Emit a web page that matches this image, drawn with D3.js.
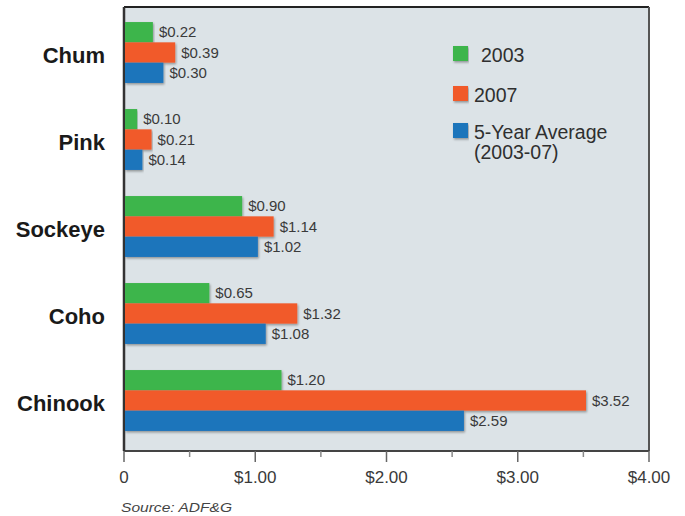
<!DOCTYPE html>
<html>
<head>
<meta charset="utf-8">
<script src="https://cdn.jsdelivr.net/npm/d3@7"></script>
<style>
  body { margin: 0; background: #fff; }
  svg { display: block; font-family: "Liberation Sans", Arial, sans-serif; }
</style>
</head>
<body>
<svg width="685" height="516"></svg>
<script>
const species = ["Chum", "Pink", "Sockeye", "Coho", "Chinook"];
const seriesNames = ["2003", "2007", "5-Year Average"];
const legendLabels = [["2003"], ["2007"], ["5-Year Average", "(2003-07)"]];
const values2003 = [0.22, 0.10, 0.90, 0.65, 1.20];
const values2007 = [0.39, 0.21, 1.14, 1.32, 3.52];
const valuesAvg = [0.30, 0.14, 1.02, 1.08, 2.59];
const xTicks = [0, 1, 2, 3, 4];
const xTickLabels = ["0", "$1.00", "$2.00", "$3.00", "$4.00"];
const colors = ["#3cb54b", "#f15a29", "#1f74bb"];

document.addEventListener("DOMContentLoaded", function(){
    let svg = d3.select("svg");
    let left = 124, right = 649, top = 7, bottom = 451;

    let rows = species.map((s, i) => ({
        name: s,
        vals: [values2003[i], values2007[i], valuesAvg[i]]
    }));

    let x = d3.scaleLinear().domain([0, 4]).range([left, right]);
    let y = d3.scaleBand().domain(species).range([9, 444])
        .paddingInner(0.3).paddingOuter(0.15);
    let ySub = d3.scaleBand().domain(seriesNames).range([0, y.bandwidth()]);

    // soft shadow under bars
    let defs = svg.append("defs");
    let f = defs.append("filter").attr("id", "shadow")
        .attr("x", "-5%").attr("y", "-20%").attr("width", "110%").attr("height", "150%");
    f.append("feDropShadow").attr("dx", 1).attr("dy", 1.5)
        .attr("stdDeviation", 0.8).attr("flood-color", "#000").attr("flood-opacity", 0.35);
    defs.append("clipPath").attr("id", "pageclip")
        .append("rect").attr("x", 0).attr("y", 0).attr("width", 671).attr("height", 516);

    // panel
    svg.append("rect")
        .attr("x", left).attr("y", top)
        .attr("width", right - left).attr("height", bottom - top)
        .style("fill", "#dce3e7");
    svg.append("line").attr("x1", left).attr("x2", right).attr("y1", top).attr("y2", top)
        .style("stroke", "#222").style("stroke-width", 2);
    svg.append("line").attr("x1", right).attr("x2", right).attr("y1", top).attr("y2", bottom)
        .style("stroke", "#555").style("stroke-width", 2);
    svg.append("line").attr("x1", left).attr("x2", right).attr("y1", bottom).attr("y2", bottom)
        .style("stroke", "#444").style("stroke-width", 2);
    svg.append("line").attr("x1", left).attr("x2", left).attr("y1", top).attr("y2", bottom)
        .style("stroke", "#333").style("stroke-width", 2.5);

    // bars
    let groups = svg.append("g").selectAll("g")
        .data(rows)
        .enter().append("g")
        .attr("transform", d => "translate(0," + y(d.name) + ")");

    groups.selectAll("rect")
        .data(d => d.vals.map((v, i) => ({ key: seriesNames[i], v: v, i: i })))
        .enter().append("rect")
        .attr("x", x(0) + 1)
        .attr("y", d => ySub(d.key))
        .attr("width", d => x(d.v) - x(0) - 1)
        .attr("height", ySub.bandwidth())
        .style("fill", d => colors[d.i])
        .attr("filter", "url(#shadow)");

    groups.selectAll("text.val")
        .data(d => d.vals.map((v, i) => ({ key: seriesNames[i], v: v, i: i })))
        .enter().append("text")
        .attr("class", "val")
        .attr("x", d => x(d.v) + 6)
        .attr("y", d => ySub(d.key) + ySub.bandwidth() / 2)
        .attr("dy", "0.35em")
        .style("font-size", "15px")
        .style("fill", "#3a3a3a")
        .text(d => "$" + d.v.toFixed(2));

    // category labels
    svg.append("g").selectAll("text")
        .data(species)
        .enter().append("text")
        .attr("x", 105)
        .attr("y", d => y(d) + y.bandwidth() / 2 + 3)
        .attr("dy", "0.35em")
        .attr("text-anchor", "end")
        .style("font-size", "22px")
        .style("font-weight", "bold")
        .style("fill", "#1a1a1a")
        .text(d => d);

    // x axis ticks
    let minor = d3.range(0.5, 4, 1);
    svg.append("g").selectAll("line")
        .data(xTicks)
        .enter().append("line")
        .attr("x1", d => x(d)).attr("x2", d => x(d))
        .attr("y1", bottom).attr("y2", bottom + 11)
        .style("stroke", "#666").style("stroke-width", 1.5);
    svg.append("g").selectAll("line")
        .data(minor)
        .enter().append("line")
        .attr("x1", d => x(d)).attr("x2", d => x(d))
        .attr("y1", bottom).attr("y2", bottom + 6)
        .style("stroke", "#888").style("stroke-width", 1.5);

    svg.append("g").attr("clip-path", "url(#pageclip)")
        .selectAll("text")
        .data(xTicks)
        .enter().append("text")
        .attr("x", d => x(d))
        .attr("y", 483)
        .attr("text-anchor", "middle")
        .style("font-size", "17px")
        .style("fill", "#3a3a3a")
        .text((d, i) => xTickLabels[i]);

    // legend
    let legY = [46, 86, 123];
    let legend = svg.append("g").selectAll("g")
        .data(legendLabels)
        .enter().append("g")
        .attr("transform", (d, i) => "translate(453," + legY[i] + ")");
    legend.append("rect")
        .attr("width", 15).attr("height", 15)
        .style("fill", (d, i) => colors[i])
        .attr("filter", "url(#shadow)");
    legend.each(function(d, i) {
        let tx = i === 0 ? 28 : 21;
        let t = d3.select(this).append("text")
            .attr("x", tx)
            .attr("y", 16)
            .style("font-size", "19.5px")
            .style("fill", "#2f2f2f");
        d.forEach((line, j) => {
            t.append("tspan").attr("x", tx).attr("dy", j === 0 ? 0 : 20).text(line);
        });
    });

    // source note
    svg.append("text")
        .attr("x", 121).attr("y", 512)
        .attr("textLength", 111)
        .attr("lengthAdjust", "spacingAndGlyphs")
        .style("font-size", "13px")
        .style("font-style", "italic")
        .style("fill", "#444")
        .text("Source: ADF&G");
});
</script>
</body>
</html>
